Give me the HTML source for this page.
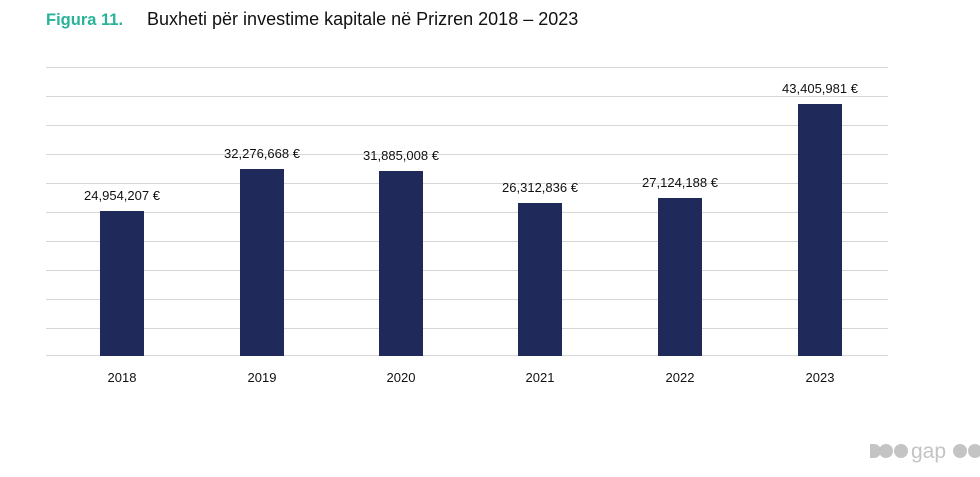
<!DOCTYPE html>
<html><head><meta charset="utf-8"><style>
body{margin:0;width:980px;height:472px;background:#fff;overflow:hidden;font-family:"Liberation Sans",sans-serif}
</style></head><body>
<svg width="980" height="472" xmlns="http://www.w3.org/2000/svg" font-family="Liberation Sans, sans-serif">
<text x="46" y="25" font-size="16.5" font-weight="bold" fill="#2bb39a">Figura 11.</text>
<text x="147" y="25" font-size="18" fill="#111">Buxheti për investime kapitale në Prizren 2018 – 2023</text>
<g stroke="#d6d6d6" stroke-width="1">
<line x1="46" x2="888" y1="67.5" y2="67.5"/><line x1="46" x2="888" y1="96.5" y2="96.5"/>
<line x1="46" x2="888" y1="125.5" y2="125.5"/><line x1="46" x2="888" y1="154.5" y2="154.5"/>
<line x1="46" x2="888" y1="183.5" y2="183.5"/><line x1="46" x2="888" y1="212.5" y2="212.5"/>
<line x1="46" x2="888" y1="241.5" y2="241.5"/><line x1="46" x2="888" y1="270.5" y2="270.5"/>
<line x1="46" x2="888" y1="299.5" y2="299.5"/><line x1="46" x2="888" y1="328.5" y2="328.5"/>
<line x1="46" x2="888" y1="355.5" y2="355.5"/>
</g>
<g fill="#1f2a5a">
<rect x="100" y="211" width="44" height="145"/>
<rect x="240" y="169" width="44" height="187"/>
<rect x="379" y="171" width="44" height="185"/>
<rect x="518" y="203" width="44" height="153"/>
<rect x="658" y="198" width="44" height="158"/>
<rect x="798" y="104" width="44" height="252"/>
</g>
<g font-size="13" fill="#111" text-anchor="middle">
<text x="122" y="200">24,954,207 €</text>
<text x="262" y="158">32,276,668 €</text>
<text x="401" y="160">31,885,008 €</text>
<text x="540" y="192">26,312,836 €</text>
<text x="680" y="187">27,124,188 €</text>
<text x="820" y="93">43,405,981 €</text>
<text x="122" y="382">2018</text><text x="262" y="382">2019</text>
<text x="401" y="382">2020</text><text x="540" y="382">2021</text>
<text x="680" y="382">2022</text><text x="820" y="382">2023</text>
</g>
<g fill="#c4c4c4">
<path d="M870 444 h4 a7 7 0 0 1 0 14 h-4 z"/>
<circle cx="886" cy="451" r="7"/><circle cx="901" cy="451" r="7"/>
<text x="911" y="458" font-size="21">gap</text>
<circle cx="960" cy="451" r="7"/><circle cx="975" cy="451" r="7"/>
</g>
</svg>
</body></html>
